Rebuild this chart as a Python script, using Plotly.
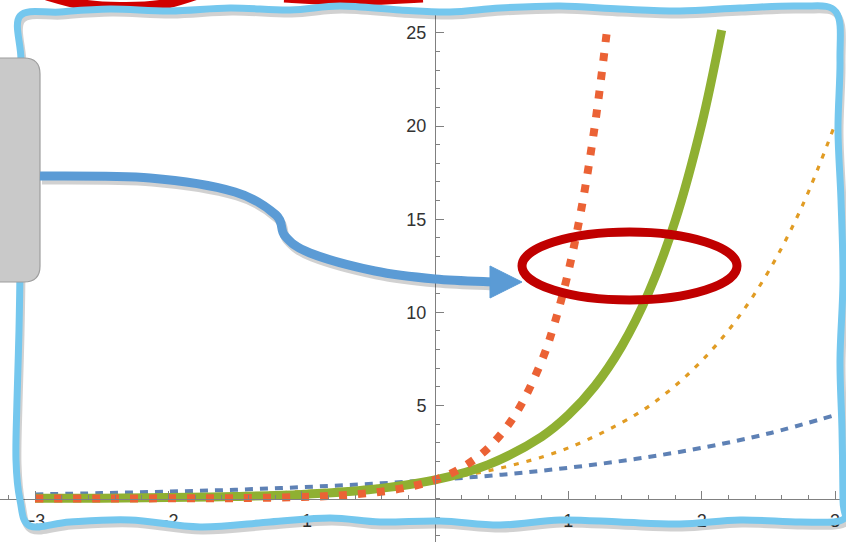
import plotly.graph_objects as go

# ---------------- data ----------------
blue_x = [-3.0, -2.5, -2.0, -1.5, -1.0, -0.5, 0.0, 0.5, 1.0, 1.5, 2.0, 2.5, 3.0]
blue_y = [0.22, 0.29, 0.37, 0.47, 0.61, 0.78, 1.0, 1.28, 1.65, 2.12, 2.72, 3.49, 4.48]

orange_x = [-3.0, -2.5, -2.0, -1.5, -1.0, -0.5, 0.0, 0.5, 1.0, 1.5, 1.75, 2.0, 2.25, 2.5, 2.75, 3.0]
orange_y = [0.05, 0.08, 0.14, 0.22, 0.37, 0.61, 1.0, 1.65, 2.72, 4.48, 5.75, 7.39, 9.49, 12.18, 15.64, 20.09]

green_x = [-3.0, -2.5, -2.0, -1.5, -1.0, -0.5, 0.0, 0.4, 0.8, 1.0, 1.2, 1.4, 1.6, 1.8, 2.0, 2.15]
green_y = [0.01, 0.02, 0.05, 0.11, 0.22, 0.47, 1.0, 1.82, 3.32, 4.48, 6.05, 8.17, 11.02, 14.88, 20.09, 25.15]

red_x = [-3.0, -2.5, -2.0, -1.5, -1.0, -0.75, -0.5, -0.25, 0.0, 0.2, 0.4, 0.6, 0.8, 0.9, 1.0, 1.1, 1.2, 1.29]
red_y = [0.0, 0.0, 0.01, 0.02, 0.08, 0.15, 0.29, 0.54, 1.0, 1.65, 2.72, 4.48, 7.39, 9.49, 12.18, 15.64, 20.09, 25.15]

x_ticks = [-3, -2, -1, 1, 2, 3]
y_ticks = [5, 10, 15, 20, 25]

# ---------------- layout geometry ----------------
W, H = 846, 542
ML, MR, MT, MB = 0, 0, 14, 0
PW, PH = W - ML - MR, H - MT - MB
X_RANGE = [-3.2625, 3.0825]
Y_RANGE = [-2.336, 26.02]

def P(x, y):
    return f"{(x - ML) / PW:.5f},{1 - (y - MT) / PH:.5f}"

def smooth_path(pts, closed=False):
    n = len(pts)
    s = "M " + P(*pts[0])
    rng = range(n) if closed else range(n - 1)
    for i in rng:
        p0 = pts[(i - 1) % n] if (closed or i > 0) else pts[i]
        p1 = pts[i % n]
        p2 = pts[(i + 1) % n]
        p3 = pts[(i + 2) % n] if (closed or i + 2 < n) else p2
        c1 = (p1[0] + (p2[0] - p0[0]) / 6, p1[1] + (p2[1] - p0[1]) / 6)
        c2 = (p2[0] - (p3[0] - p1[0]) / 6, p2[1] - (p3[1] - p1[1]) / 6)
        s += f" C {P(*c1)} {P(*c2)} {P(*p2)}"
    if closed:
        s += " Z"
    return s

fig = go.Figure()
fig.add_trace(go.Scatter(x=blue_x, y=blue_y, mode="lines", line=dict(color="#5E81B5", width=4, dash="8px,7px", shape="spline")))
fig.add_trace(go.Scatter(x=orange_x, y=orange_y, mode="lines", line=dict(color="#E19C24", width=3.2, dash="5px,8px", shape="spline")))
fig.add_trace(go.Scatter(x=green_x, y=green_y, mode="lines", line=dict(color="#8FB032", width=9, shape="spline")))
fig.add_trace(go.Scatter(x=red_x, y=red_y, mode="lines", line=dict(color="#EB6235", width=8, dash="8px,11px", shape="spline")))

axcol = "#808080"
tfont = dict(family="Liberation Sans", size=18, color="#333333")
fig.update_layout(
    width=W, height=H, margin=dict(l=ML, r=MR, t=MT, b=MB, autoexpand=False),
    paper_bgcolor="white", plot_bgcolor="white", showlegend=False, hovermode=False,
    xaxis=dict(range=X_RANGE, anchor="free", position=(0 - Y_RANGE[0]) / (Y_RANGE[1] - Y_RANGE[0]),
               automargin=False,
               showline=True, linecolor=axcol, linewidth=1.2, showgrid=False, zeroline=False,
               tickmode="array", tickvals=x_ticks, ticks="inside", ticklen=8, tickcolor=axcol,
               minor=dict(tickmode="linear", tick0=0, dtick=0.2, ticks="inside", ticklen=4, tickcolor=axcol),
               tickfont=tfont, ticklabelstandoff=6),
    yaxis=dict(range=Y_RANGE, anchor="free", position=(0 - X_RANGE[0]) / (X_RANGE[1] - X_RANGE[0]),
               automargin=False,
               side="left", showline=True, linecolor=axcol, linewidth=1.2, showgrid=False, zeroline=False,
               tickmode="array", tickvals=y_ticks, ticks="inside", ticklen=8, tickcolor=axcol,
               minor=dict(tickmode="linear", tick0=0, dtick=1, ticks="inside", ticklen=4, tickcolor=axcol),
               tickfont=tfont, ticklabelstandoff=5),
)

shapes = []
# red strokes peeking at top
shapes.append(dict(type="path", xref="paper", yref="paper", layer="above",
                   path=smooth_path([(42, -6), (80, 4), (120, 7), (160, 5), (196, -5)]),
                   line=dict(color="#D00000", width=10)))
shapes.append(dict(type="path", xref="paper", yref="paper", layer="above",
                   path=smooth_path([(284, -1), (350, 2), (423, -1)]),
                   line=dict(color="#D00000", width=7)))

# wavy frame
frame = [(20, 16), (60, 12), (110, 9), (170, 11), (230, 8), (290, 10), (340, 6), (400, 10), (450, 12),
         (500, 8), (560, 6), (620, 9), (680, 11), (740, 8), (800, 6), (836, 12),
         (840, 60), (838, 130), (841, 200), (843, 280), (840, 360), (842, 430), (843, 500), (842, 520),
         (800, 522), (740, 520), (680, 524), (620, 522), (560, 520), (500, 525), (440, 521), (380, 522),
         (330, 518), (270, 522), (200, 527), (130, 520), (70, 522), (30, 526),
         (20, 500), (16, 460), (17, 400), (19, 330), (20, 260), (19, 190), (20, 120), (21, 60)]
shadow = [(x + 2, y + 4) for x, y in frame]
shapes.append(dict(type="path", xref="paper", yref="paper", layer="above",
                   path=smooth_path(shadow, closed=True), line=dict(color="rgba(0,0,0,0.18)", width=7)))
shapes.append(dict(type="path", xref="paper", yref="paper", layer="above",
                   path=smooth_path(frame, closed=True), line=dict(color="#74C7EE", width=7)))

# grey callout box
bx0, by0, bx1, by1, r = -20, 58, 40, 282, 16
box = (f"M {P(bx0 + r, by0)} L {P(bx1 - r, by0)} Q {P(bx1, by0)} {P(bx1, by0 + r)} "
       f"L {P(bx1, by1 - r)} Q {P(bx1, by1)} {P(bx1 - r, by1)} L {P(bx0 + r, by1)} "
       f"Q {P(bx0, by1)} {P(bx0, by1 - r)} L {P(bx0, by0 + r)} Q {P(bx0, by0)} {P(bx0 + r, by0)} Z")
shapes.append(dict(type="path", xref="paper", yref="paper", layer="above", path=box,
                   fillcolor="#C9C9C9", line=dict(color="#9E9E9E", width=1.2)))

# blue arrow
arrow = [(40, 176), (150, 178), (235, 192), (276, 215), (285, 236), (310, 253), (375, 271), (435, 279), (495, 282)]
shapes.append(dict(type="path", xref="paper", yref="paper", layer="above",
                   path=smooth_path([(x + 2, y + 4) for x, y in arrow]), line=dict(color="rgba(0,0,0,0.18)", width=9)))
shapes.append(dict(type="path", xref="paper", yref="paper", layer="above",
                   path=smooth_path(arrow), line=dict(color="#5B9BD5", width=9)))
shapes.append(dict(type="path", xref="paper", yref="paper", layer="above",
                   path=f"M {P(490, 266)} L {P(522, 282)} L {P(490, 298)} Z",
                   fillcolor="#5B9BD5", line=dict(color="#5B9BD5", width=1)))

# red ellipse
shapes.append(dict(type="circle", xref="paper", yref="paper", layer="above",
                   x0=(522 - ML) / PW, x1=(737 - ML) / PW,
                   y0=1 - (300 - MT) / PH, y1=1 - (232 - MT) / PH,
                   line=dict(color="#C00000", width=9)))

fig.update_layout(shapes=shapes)
fig.write_html("out.html", config={"displayModeBar": False, "staticPlot": True},
               post_script="document.body.style.margin='0px';document.body.style.overflow='hidden';")
